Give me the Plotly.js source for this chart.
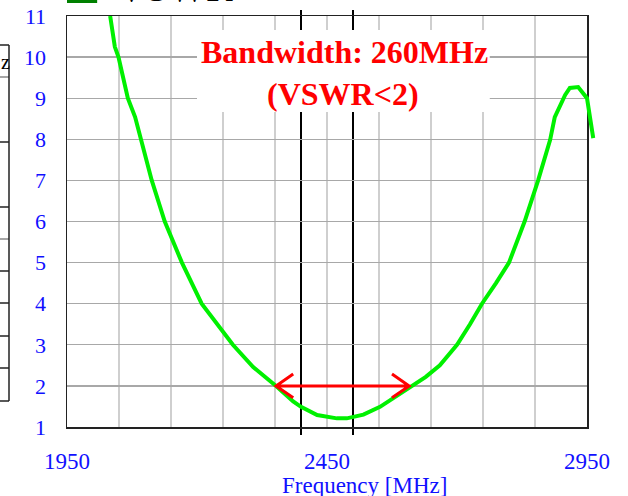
<!DOCTYPE html>
<html>
<head>
<meta charset="utf-8">
<script src="https://cdn.plot.ly/plotly-3.0.1.min.js"></script>
<style>html,body{margin:0;padding:0;background:#fff;}</style>
</head>
<body>
<div id="chart" style="width:628px;height:496px;"></div>
<script>
// Data
const freqMHz = [2033, 2042, 2049, 2061, 2067, 2081, 2092, 2113, 2138, 2171, 2209, 2238, 2269, 2308, 2352, 2385, 2400, 2431, 2450, 2469, 2488, 2500, 2520, 2552, 2580, 2610, 2640, 2667, 2700, 2725, 2748, 2775, 2800, 2830, 2856, 2879, 2888, 2908, 2917, 2933, 2950, 2962];
const vswr    = [11.0, 10.25, 10.0, 9.37, 9.0, 8.54, 8.0, 7.0, 6.0, 5.0, 4.0, 3.5, 3.0, 2.46, 2.0, 1.62, 1.49, 1.29, 1.25, 1.21, 1.21, 1.24, 1.3, 1.49, 1.72, 1.97, 2.22, 2.5, 3.0, 3.5, 4.0, 4.5, 5.0, 6.0, 7.0, 7.98, 8.54, 9.08, 9.25, 9.27, 9.0, 8.03];
const xTicks = [1950, 2450, 2950];
const yTicks = [1, 2, 3, 4, 5, 6, 7, 8, 9, 10, 11];
const markerFreqs = [2400, 2500];       // black vertical reference lines
const bandEdges = [2352, 2608];         // VSWR = 2 crossings
const bandLevel = 2;
const legendName = 'VSWR';
const bwLine1 = 'Bandwidth: 260MHz';
const bwLine2 = '(VSWR&lt;2)';

const serif = 'Liberation Serif, Times New Roman, serif';
const blue = '#1010ff';

// geometry: the frame spans 1950..2950; the curve may run a little past the right edge
const W = 628, H = 496, mL = 67, mR = 30, mT = 16, mB = 69;
const plotW = W - mL - mR;             // full width of the (overhanging) curve area
const frameW = 520;                    // width of the framed axes
const xMin = 1950, xMax = 2950;
const x2Max = xMin + (xMax - xMin) * plotW / frameW;
const plotH = H - mT - mB;
const py = v => (H - mB - v) / plotH;
const pxFull = v => (v - mL) / plotW;

const shapes = [];
markerFreqs.forEach(f => shapes.push({
  type: 'line', layer: 'below', xref: 'x', yref: 'paper',
  x0: f, x1: f, y0: py(435), y1: py(10),
  line: {color: 'black', width: 2}
}));
// white box behind the bandwidth text
shapes.push({type: 'rect', layer: 'above', xref: 'x', yref: 'paper',
  x0: 2200, x1: 2763, y0: py(112), y1: py(30),
  fillcolor: 'white', line: {width: 0}});
// double-headed arrow
const ax = 33, ay = 0.29;
const arrowPath = `M${bandEdges[0]},${bandLevel} L${bandEdges[1]},${bandLevel} ` +
  `M${bandEdges[0] + ax},${bandLevel + ay} L${bandEdges[0]},${bandLevel} L${bandEdges[0] + ax},${bandLevel - ay} ` +
  `M${bandEdges[1] - ax},${bandLevel + ay} L${bandEdges[1]},${bandLevel} L${bandEdges[1] - ax},${bandLevel - ay}`;
shapes.push({type: 'path', layer: 'above', xref: 'x', yref: 'y', path: arrowPath,
  line: {color: '#ff0000', width: 3}});
// legend swatch (cut at the top of the picture)
shapes.push({type: 'rect', xref: 'x', yref: 'paper', x0: 1950, x1: 2008, y0: py(3), y1: py(-8),
  fillcolor: '#008000', line: {width: 0}});
// fragment of a neighbouring table at the left edge
const tblY = [45, 77, 142, 207, 239, 271, 303, 336, 368, 401];
tblY.forEach((yy, i) => shapes.push({type: 'line', xref: 'paper', yref: 'paper',
  x0: pxFull(0), x1: pxFull(9), y0: py(yy), y1: py(yy),
  line: {color: (i === 1 || i === 4) ? '#888' : '#222', width: 1.5}}));
shapes.push({type: 'line', xref: 'paper', yref: 'paper', x0: pxFull(9), x1: pxFull(9),
  y0: py(401), y1: py(45), line: {color: '#222', width: 1.5}});

const trace = {
  x: freqMHz, y: vswr, type: 'scatter', mode: 'lines', name: legendName,
  xaxis: 'x2', yaxis: 'y2',
  line: {color: '#00f000', width: 4}, hoverinfo: 'skip'
};

const layout = {
  width: W, height: H,
  margin: {l: mL, r: mR, t: mT, b: mB},
  paper_bgcolor: 'white', plot_bgcolor: 'rgba(0,0,0,0)',
  showlegend: false,
  font: {family: serif, color: blue},
  xaxis: {
    domain: [0, frameW / plotW], anchor: 'y',
    range: [xMin, xMax], tickvals: xTicks, ticks: '',
    ticklabelstandoff: 13,
    tickfont: {family: serif, size: 23, color: blue},
    showgrid: true, gridcolor: '#cfcfcf', gridwidth: 1.3,
    minor: {dtick: 100, tick0: 1950, showgrid: true, gridcolor: '#cfcfcf', gridwidth: 1.3},
    showline: true, mirror: true, linecolor: '#222', linewidth: 1.5, zeroline: false
  },
  yaxis: {
    anchor: 'x',
    range: [1, 11], tickvals: yTicks, ticks: '',
    ticklabelstandoff: 15,
    tickfont: {family: serif, size: 22, color: blue},
    showgrid: true, gridcolor: '#a8a8a8', gridwidth: 1.3,
    showline: true, mirror: true, linecolor: '#222', linewidth: 1.5, zeroline: false
  },
  xaxis2: {
    anchor: 'y2', domain: [0, 1], range: [xMin, x2Max], visible: false,
    showgrid: false, zeroline: false, showline: false
  },
  yaxis2: {
    anchor: 'x2', domain: [0, 1], range: [1, 11], visible: false,
    showgrid: false, zeroline: false, showline: false
  },
  shapes: shapes,
  annotations: [
    {text: '<b>' + bwLine1 + '</b>', xref: 'x', yref: 'paper', x: 2483, y: py(52),
     xanchor: 'center', yanchor: 'middle', showarrow: false,
     font: {family: serif, size: 32, color: '#ff0000'}},
    {text: '<b>' + bwLine2 + '</b>', xref: 'x', yref: 'paper', x: 2481, y: py(94),
     xanchor: 'center', yanchor: 'middle', showarrow: false,
     font: {family: serif, size: 32, color: '#ff0000'}},
    {text: legendName, xref: 'x', yref: 'paper', x: 2042, y: py(16),
     xanchor: 'left', yanchor: 'bottom', yshift: 4, showarrow: false,
     font: {family: serif, size: 40, color: 'black'}},
    {text: 'Frequency [MHz]', xref: 'x', yref: 'paper', x: 2523, y: py(485),
     xanchor: 'center', yanchor: 'middle', showarrow: false,
     font: {family: serif, size: 23, color: blue}},
    {text: 'z', xref: 'paper', yref: 'paper', x: pxFull(-1), y: py(62),
     xanchor: 'left', yanchor: 'middle', showarrow: false,
     font: {family: serif, size: 20, color: 'black'}}
  ]
};

Plotly.newPlot('chart', [trace], layout, {displayModeBar: false, staticPlot: true});
</script>
</body>
</html>
